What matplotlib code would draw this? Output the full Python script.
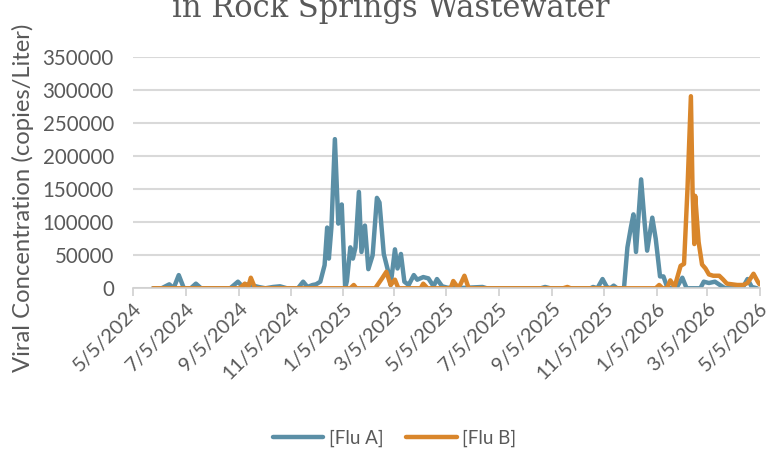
import matplotlib
matplotlib.use("Agg")
import matplotlib.pyplot as plt
import matplotlib.dates as mdates
from matplotlib.ticker import FuncFormatter
import pandas as pd

# Flu A readings (date, copies/L)
flu_a_dates = [
    "2024-05-28", "2024-06-07", "2024-06-16", "2024-06-21", "2024-06-27", "2024-07-03",
    "2024-07-11", "2024-07-17", "2024-07-23", "2024-08-26", "2024-09-04", "2024-09-09",
    "2024-09-15", "2024-09-22", "2024-09-28", "2024-10-06", "2024-10-15", "2024-10-23",
    "2024-10-31", "2024-11-13", "2024-11-19", "2024-11-24", "2024-11-30", "2024-12-04",
    "2024-12-09", "2024-12-14", "2024-12-17", "2024-12-19", "2024-12-22", "2024-12-26",
    "2024-12-30", "2025-01-03", "2025-01-07", "2025-01-09", "2025-01-13", "2025-01-16",
    "2025-01-19", "2025-01-23", "2025-01-26", "2025-01-30", "2025-02-03", "2025-02-08",
    "2025-02-13", "2025-02-16", "2025-02-21", "2025-02-27", "2025-03-01", "2025-03-06",
    "2025-03-09", "2025-03-13", "2025-03-17", "2025-03-22", "2025-03-28", "2025-04-01",
    "2025-04-08", "2025-04-14", "2025-04-20", "2025-04-24", "2025-04-30", "2025-05-06",
    "2025-05-15", "2025-06-16", "2025-06-21", "2025-08-23", "2025-08-28", "2025-09-03",
    "2025-10-20", "2025-10-23", "2025-10-28", "2025-11-03", "2025-11-08", "2025-11-12",
    "2025-11-16", "2025-11-20", "2025-11-28", "2025-12-02", "2025-12-06", "2025-12-09",
    "2025-12-12", "2025-12-18", "2025-12-22", "2025-12-25", "2025-12-31", "2026-01-04",
    "2026-01-09", "2026-01-13", "2026-01-17", "2026-01-21", "2026-01-28", "2026-02-04",
    "2026-02-09", "2026-02-25", "2026-03-01", "2026-03-07", "2026-03-14", "2026-03-21",
    "2026-03-26", "2026-04-15", "2026-04-21", "2026-04-26", "2026-05-02",
]
flu_a = [
    0, 0, 6000, 0, 20000, 0,
    0, 7000, 0, 0, 10000, 3000,
    6000, 4000, 2000, 0, 2000, 3000,
    0, 0, 10000, 2000, 5000, 6000,
    10000, 35000, 92000, 45000, 93000, 226000,
    98000, 127000, 0, 11000, 62000, 45000,
    62000, 146000, 55000, 95000, 29000, 50000,
    137000, 130000, 52000, 21000, 5000, 59000,
    30000, 52000, 10000, 5000, 20000, 13000,
    17000, 15000, 3000, 14000, 3000, 1000,
    0, 2000, 0, 0, 2000, 0,
    0, 2000, 0, 14000, 2000, 0,
    4000, 0, 0, 62000, 92000, 112000,
    55000, 165000, 100000, 57000, 107000, 75000,
    18000, 18000, 3000, 0, 0, 16000,
    0, 0, 10000, 8000, 10000, 4000,
    0, 0, 14000, 2000, 0,
]

# Flu B readings (date, copies/L)
flu_b_dates = [
    "2024-05-28", "2024-09-06", "2024-09-12", "2024-09-16", "2024-09-19", "2024-09-24",
    "2025-01-13", "2025-01-17", "2025-01-20", "2025-02-11", "2025-02-19", "2025-02-24",
    "2025-03-01", "2025-03-06", "2025-03-10", "2025-04-05", "2025-04-08", "2025-04-13",
    "2025-05-10", "2025-05-13", "2025-05-18", "2025-05-21", "2025-05-26", "2025-05-31",
    "2025-09-18", "2025-09-23", "2025-09-27", "2026-01-04", "2026-01-08", "2026-01-12",
    "2026-01-17", "2026-01-21", "2026-01-26", "2026-02-02", "2026-02-06", "2026-02-10",
    "2026-02-14", "2026-02-16", "2026-02-18", "2026-02-19", "2026-02-23", "2026-02-27",
    "2026-03-03", "2026-03-07", "2026-03-12", "2026-03-19", "2026-03-23", "2026-03-28",
    "2026-04-03", "2026-04-09", "2026-04-16", "2026-04-21", "2026-04-28", "2026-05-03",
    "2026-05-05",
]
flu_b = [
    0, 0, 7000, 2000, 16000, 0,
    0, 5000, 0, 0, 15000, 25000,
    5000, 13000, 0, 0, 7000, 0,
    0, 11000, 2000, 5000, 19000, 0,
    0, 2000, 0, 0, 5000, 0,
    0, 12000, 2000, 34000, 37000, 150000,
    291000, 143000, 67000, 140000, 70000, 36000,
    30000, 21000, 19000, 19000, 14000, 7000,
    6000, 5000, 5000, 8000, 22000, 10000,
    6000,
]

x_start, x_end = "2024-05-05", "2026-05-05"

gray = "#595959"
fig = plt.figure(figsize=(7.74, 4.55), dpi=100)
ax = fig.add_axes([0.1722, 0.3664, 0.8091, 0.5077])

ax.plot(pd.to_datetime(flu_a_dates), flu_a, color="#5b8fa6", lw=3.2,
        solid_joinstyle="round", solid_capstyle="round", label="[Flu A]")
ax.plot(pd.to_datetime(flu_b_dates), flu_b, color="#d9862b", lw=3.2,
        solid_joinstyle="round", solid_capstyle="round", label="[Flu B]")

ax.set_xlim(pd.Timestamp(x_start), pd.Timestamp(x_end))
ax.set_ylim(0, 350000)
ax.set_yticks(range(0, 350001, 50000))
ax.grid(axis="y", color="#d9d9d9", lw=1.5)
ax.set_axisbelow(True)

ax.xaxis.set_major_locator(mdates.MonthLocator(bymonth=[1, 3, 5, 7, 9, 11], bymonthday=5))
ax.xaxis.set_major_formatter(FuncFormatter(
    lambda v, p: "{d.month}/{d.day}/{d.year}".format(d=mdates.num2date(v))))

for s in ["top", "right", "left"]:
    ax.spines[s].set_visible(False)
ax.spines["bottom"].set_color("#d0d0d0")
ax.spines["bottom"].set_linewidth(1.2)
ax.tick_params(axis="x", colors="#d0d0d0", length=6, width=1.2, labelcolor=gray,
               labelsize=14.5, labelrotation=45, pad=2)
ax.tick_params(axis="y", length=0, labelcolor=gray, labelsize=14.8, pad=14)
for lbl in ax.get_xticklabels():
    lbl.set_ha("right")
    lbl.set_rotation_mode("anchor")
for lbl in ax.get_xticklabels() + ax.get_yticklabels():
    lbl.set_family("Lato")

fig.text(0.0297, 0.566, "Viral Concentration (copies/Liter)", rotation=90,
         ha="center", va="center", color=gray, fontsize=17.2, family="Lato")
fig.text(0.505, 1 - 17 / 455, "in Rock Springs Wastewater", ha="center",
         va="baseline", color=gray, fontsize=22, family="DejaVu Serif")

fig.legend(loc="center", bbox_to_anchor=(0.51, 0.037), ncol=2, frameon=False,
           handlelength=2.7, columnspacing=1.2, handletextpad=0.3,
           prop={"family": "Lato", "size": 13.5}, labelcolor=gray)

fig.savefig("out.png", dpi=100)
